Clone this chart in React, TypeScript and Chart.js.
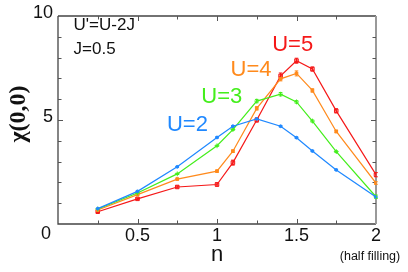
import React, { useEffect, useRef } from "react";
import { Chart, registerables } from "chart.js";

Chart.register(...registerables);

const nValues = [0.25, 0.5, 0.75, 1.0, 1.1, 1.25, 1.4, 1.5, 1.6, 1.75, 2.0];
const chiU2 = [0.74, 1.57, 2.75, 4.16, 4.7, 5.05, 4.7, 4.15, 3.51, 2.6, 1.3];
const chiU3 = [0.72, 1.49, 2.41, 3.76, 4.54, 5.91, 6.24, 5.87, 4.95, 3.48, 1.31];
const chiU4 = [0.67, 1.41, 2.16, 2.54, 3.5, 5.56, 6.98, 7.24, 6.42, 4.45, 1.97];
const chiU5 = [0.59, 1.21, 1.78, 1.9, 2.95, 5.0, 7.12, 7.85, 7.45, 5.44, 2.37];
const errU2 = [0.02, 0.02, 0.02, 0.03, 0.03, 0.03, 0.03, 0.03, 0.03, 0.03, 0.03];
const errU3 = [0.02, 0.02, 0.03, 0.03, 0.04, 0.08, 0.08, 0.06, 0.05, 0.04, 0.08];
const errU4 = [0.03, 0.03, 0.04, 0.05, 0.06, 0.08, 0.1, 0.12, 0.08, 0.06, 0.06];
const errU5 = [0.04, 0.04, 0.05, 0.08, 0.12, 0.1, 0.14, 0.12, 0.1, 0.1, 0.1];

const xTickLabels = ["0.5", "1", "1.5", "2"];
const xTickValues = [0.5, 1, 1.5, 2];
const yTickLabels = ["5", "10"];
const yTickValues = [5, 10];

const seriesNames = ["U=2", "U=3", "U=4", "U=5"];
const seriesColors = ["#1f88ff", "#44ee1c", "#ff8a1c", "#f51818"];

export default function App() {
  const ref = useRef<HTMLCanvasElement | null>(null);

  useEffect(() => {
    document.body.style.margin = "0";
    const canvas = ref.current!;
    const values = [chiU2, chiU3, chiU4, chiU5];
    const errs = [errU2, errU3, errU4, errU5];
    const styles: any[] = ["circle", "cross", "rect", "rect"];
    const radii = [1.4, 2.4, 1.9, 2.5];
    const fills = [seriesColors[0], seriesColors[1], seriesColors[2], "rgba(245,24,24,0.35)"];

    const overlay = {
      id: "overlay",
      beforeDatasetsDraw(chart: any) {
        const ctx = chart.ctx;
        const xs = chart.scales.x;
        const ys = chart.scales.y;
        const a = chart.chartArea;
        ctx.save();
        ctx.strokeStyle = "#444";
        ctx.lineWidth = 1.3;
        ctx.beginPath();
        ctx.moveTo(a.left, a.top);
        ctx.lineTo(a.left, a.bottom);
        ctx.lineTo(a.right, a.bottom);
        ctx.moveTo(a.left, a.top);
        ctx.lineTo(a.right, a.top);
        ctx.stroke();
        ctx.strokeStyle = "#999";
        ctx.lineWidth = 2;
        ctx.beginPath();
        ctx.moveTo(a.right, a.top);
        ctx.lineTo(a.right, a.bottom);
        ctx.stroke();
        ctx.strokeStyle = "#555";
        ctx.lineWidth = 1;
        ctx.beginPath();
        for (let i = 1; i < 8; i++) {
          const v = i * 0.25;
          const px = Math.round(xs.getPixelForValue(v)) + 0.5;
          const len = i % 2 === 0 ? 5 : 3.5;
          ctx.moveTo(px, a.bottom);
          ctx.lineTo(px, a.bottom - len);
          ctx.moveTo(px, a.top);
          ctx.lineTo(px, a.top + len);
        }
        for (let v = 1; v < 10; v++) {
          const py = Math.round(ys.getPixelForValue(v)) + 0.5;
          const len = v === 5 ? 5 : 3.5;
          ctx.moveTo(a.left, py);
          ctx.lineTo(a.left + len, py);
          ctx.moveTo(a.right, py);
          ctx.lineTo(a.right - len, py);
        }
        ctx.stroke();

        values.forEach((vals, si) => {
          ctx.strokeStyle = seriesColors[si];
          ctx.lineWidth = 1;
          ctx.beginPath();
          vals.forEach((v, i) => {
            const px = xs.getPixelForValue(nValues[i]);
            const y1 = ys.getPixelForValue(v - errs[si][i]);
            const y2 = ys.getPixelForValue(v + errs[si][i]);
            ctx.moveTo(px, y1);
            ctx.lineTo(px, y2);
            ctx.moveTo(px - 1.8, y1);
            ctx.lineTo(px + 1.8, y1);
            ctx.moveTo(px - 1.8, y2);
            ctx.lineTo(px + 1.8, y2);
          });
          ctx.stroke();
        });
        ctx.restore();
      },
      afterDraw(chart: any) {
        const ctx = chart.ctx;
        const xs = chart.scales.x;
        const ys = chart.scales.y;
        const a = chart.chartArea;
        ctx.save();
        ctx.fillStyle = "#111";
        ctx.font = '18px "Liberation Sans", Arial, sans-serif';
        ctx.textBaseline = "middle";
        ctx.textAlign = "center";
        xTickValues.forEach((v, i) => {
          ctx.fillText(xTickLabels[i], xs.getPixelForValue(v), a.bottom + 12);
        });
        ctx.textAlign = "right";
        yTickValues.forEach((v, i) => {
          ctx.fillText(yTickLabels[i], a.left - 5, ys.getPixelForValue(v) - 3);
        });
        ctx.fillText("0", a.left - 7, a.bottom + 10);

        ctx.textAlign = "center";
        ctx.font = '22px "Liberation Sans", Arial, sans-serif';
        ctx.fillText("n", xs.getPixelForValue(1), a.bottom + 31);
        ctx.font = '12.5px "Liberation Sans", Arial, sans-serif';
        ctx.fillText("(half filling)", xs.getPixelForValue(2) - 6, a.bottom + 33);

        ctx.save();
        ctx.translate(19, 114);
        ctx.rotate(-Math.PI / 2);
        ctx.font = 'bold 24px "Liberation Serif", "Times New Roman", serif';
        ctx.fillText("\u03c7(0,0)", 0, 0);
        ctx.restore();

        ctx.textAlign = "left";
        ctx.font = '17px "Liberation Sans", Arial, sans-serif';
        ctx.fillText("U'=U-2J", xs.getPixelForValue(0.098), ys.getPixelForValue(9.57));
        ctx.fillText("J=0.5", xs.getPixelForValue(0.098), ys.getPixelForValue(8.41));

        ctx.textAlign = "center";
        ctx.font = '22px "Liberation Sans", Arial, sans-serif';
        const labelPos = [
          [0.814, 4.76],
          [1.03, 6.1],
          [1.214, 7.4],
          [1.476, 8.6],
        ];
        labelPos.forEach((p, i) => {
          ctx.fillStyle = seriesColors[i];
          ctx.fillText(seriesNames[i], xs.getPixelForValue(p[0]), ys.getPixelForValue(p[1]));
        });
        ctx.restore();
      },
    };

    const chart = new Chart(canvas, {
      type: "line",
      data: {
        datasets: values.map((vals, si) => ({
          label: seriesNames[si],
          data: vals.map((v, i) => ({ x: nValues[i], y: v })),
          borderColor: seriesColors[si],
          backgroundColor: fills[si],
          borderWidth: 1.2,
          pointStyle: styles[si],
          pointRadius: radii[si],
          pointBorderWidth: 1,
          tension: 0,
          fill: false,
        })),
      },
      options: {
        responsive: false,
        animation: false,
        events: [],
        layout: { padding: { left: 58, top: 16, right: 32, bottom: 48 } },
        plugins: { legend: { display: false }, tooltip: { enabled: false } },
        scales: {
          x: { type: "linear", min: 0, max: 2, display: false },
          y: { type: "linear", min: 0, max: 10, display: false },
        },
      },
      plugins: [overlay],
    });
    return () => chart.destroy();
  }, []);

  return (
    <div style={{ position: "absolute", left: 0, top: 0, width: 408, height: 272, background: "#fff" }}>
      <canvas ref={ref} width={408} height={272} style={{ width: 408, height: 272 }} />
    </div>
  );
}
